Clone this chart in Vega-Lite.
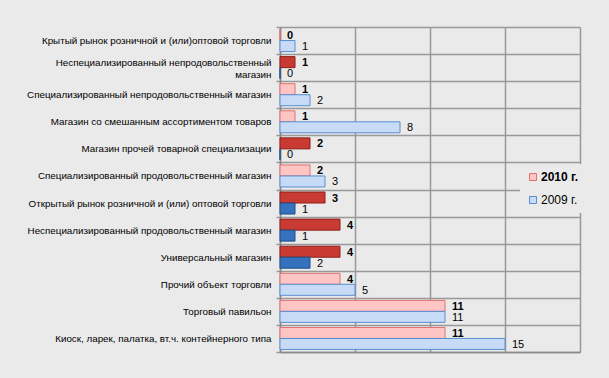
{
  "$schema": "https://vega.github.io/schema/vega-lite/v6.json",
  "autosize": {"type": "none"},
  "width": 300,
  "height": 325,
  "padding": {"left": 280, "top": 27, "right": 29, "bottom": 26},
  "background": "#eaeaea",
  "config": {
    "view": {"stroke": null, "fill": "#eaeaea"},
    "font": "Liberation Sans"
  },
  "data": {
    "values": [
      {"cat": "Крытый рынок розничной и (или)оптовой торговли", "year": "2010", "value": 0, "style": "2010 г."},
      {"cat": "Крытый рынок розничной и (или)оптовой торговли", "year": "2009", "value": 1, "style": "2009 г."},
      {"cat": "Неспециализированный непродовольственный магазин", "year": "2010", "value": 1, "style": "2010 dark"},
      {"cat": "Неспециализированный непродовольственный магазин", "year": "2009", "value": 0, "style": "2009 dark"},
      {"cat": "Специализированный непродовольственный магазин", "year": "2010", "value": 1, "style": "2010 г."},
      {"cat": "Специализированный непродовольственный магазин", "year": "2009", "value": 2, "style": "2009 г."},
      {"cat": "Магазин со смешанным ассортиментом товаров", "year": "2010", "value": 1, "style": "2010 г."},
      {"cat": "Магазин со смешанным ассортиментом товаров", "year": "2009", "value": 8, "style": "2009 г."},
      {"cat": "Магазин прочей товарной специализации", "year": "2010", "value": 2, "style": "2010 dark"},
      {"cat": "Магазин прочей товарной специализации", "year": "2009", "value": 0, "style": "2009 dark"},
      {"cat": "Специализированный продовольственный магазин", "year": "2010", "value": 2, "style": "2010 г."},
      {"cat": "Специализированный продовольственный магазин", "year": "2009", "value": 3, "style": "2009 г."},
      {"cat": "Открытый рынок розничной и (или) оптовой торговли", "year": "2010", "value": 3, "style": "2010 dark"},
      {"cat": "Открытый рынок розничной и (или) оптовой торговли", "year": "2009", "value": 1, "style": "2009 dark"},
      {"cat": "Неспециализированный продовольственный магазин", "year": "2010", "value": 4, "style": "2010 dark"},
      {"cat": "Неспециализированный продовольственный магазин", "year": "2009", "value": 1, "style": "2009 dark"},
      {"cat": "Универсальный магазин", "year": "2010", "value": 4, "style": "2010 dark"},
      {"cat": "Универсальный магазин", "year": "2009", "value": 2, "style": "2009 dark"},
      {"cat": "Прочий объект торговли", "year": "2010", "value": 4, "style": "2010 г."},
      {"cat": "Прочий объект торговли", "year": "2009", "value": 5, "style": "2009 г."},
      {"cat": "Торговый павильон", "year": "2010", "value": 11, "style": "2010 г."},
      {"cat": "Торговый павильон", "year": "2009", "value": 11, "style": "2009 г."},
      {"cat": "Киоск, ларек, палатка, вт.ч. контейнерного типа", "year": "2010", "value": 11, "style": "2010 г."},
      {"cat": "Киоск, ларек, палатка, вт.ч. контейнерного типа", "year": "2009", "value": 15, "style": "2009 г."}
    ]
  },
  "encoding": {
    "y": {
      "field": "cat", "type": "nominal", "sort": null, "title": null,
      "scale": {"paddingInner": 0, "paddingOuter": 0},
      "axis": {
        "tickBand": "extent", "grid": true, "gridColor": "#999999", "gridWidth": 1.5,
        "domainColor": "#888888", "domainWidth": 1.5, "tickColor": "#999999", "tickSize": 4, "tickWidth": 1.5,
        "labelPadding": 5, "labelFontSize": 9.8, "labelColor": "#000000", "labelLimit": 300, "labelLineHeight": 12,
        "labelOffset": {"expr": "datum.value == 'Неспециализированный непродовольственный магазин' ? -5 : 0"},
        "labelExpr": "datum.label == 'Неспециализированный непродовольственный магазин' ? ['Неспециализированный непродовольственный', 'магазин'] : datum.label"
      }
    },
    "yOffset": {"field": "year", "type": "nominal", "sort": ["2010", "2009"], "scale": {"paddingOuter": 0.23, "paddingInner": 0}},
    "x": {
      "field": "value", "type": "quantitative", "title": null,
      "scale": {"domain": [0, 20], "nice": false},
      "axis": {"values": [0, 5, 10, 15, 20], "labels": false, "ticks": false, "grid": true, "gridColor": "#999999", "gridWidth": 1.5, "domainColor": "#888888", "domainWidth": 1.5}
    }
  },
  "layer": [
    {
      "mark": {"type": "bar", "strokeWidth": 1},
      "encoding": {
        "fill": {
          "field": "style", "type": "nominal",
          "scale": {"domain": ["2010 г.", "2009 г.", "2010 dark", "2009 dark"], "range": ["#ffc4c4", "#c7daf6", "#c83a32", "#3571bd"]},
          "legend": {
            "values": ["2010 г.", "2009 г."], "title": null, "orient": "none", "legendX": 240, "legendY": 137,
            "fillColor": "#eaeaea", "padding": 7, "symbolType": "square", "symbolSize": 49, "symbolStrokeWidth": 1,
            "labelFontSize": 12, "labelColor": "#000000", "rowPadding": 11, "labelOffset": 2,
            "encode": {
              "labels": {"update": {"fontWeight": {"signal": "datum.value === '2010 г.' ? 'bold' : 'normal'"}}},
              "symbols": {"update": {"stroke": {"signal": "datum.value === '2010 г.' ? '#e07070' : '#5a8ed0'"}}}
            }
          }
        },
        "stroke": {
          "field": "style", "type": "nominal",
          "scale": {"domain": ["2010 г.", "2009 г.", "2010 dark", "2009 dark"], "range": ["#e07070", "#5a8ed0", "#8e1f1a", "#1f4f8a"]},
          "legend": null
        }
      }
    },
    {
      "transform": [{"filter": "datum.year == '2010'"}],
      "mark": {"type": "text", "align": "left", "baseline": "middle", "dx": 7, "dy": 1, "fontSize": 11, "fontWeight": "bold", "color": "#000000"},
      "encoding": {"text": {"field": "value", "type": "quantitative"}}
    },
    {
      "transform": [{"filter": "datum.year == '2009'"}],
      "mark": {"type": "text", "align": "left", "baseline": "middle", "dx": 7, "dy": 1, "fontSize": 11, "color": "#000000"},
      "encoding": {"text": {"field": "value", "type": "quantitative"}}
    }
  ]
}
